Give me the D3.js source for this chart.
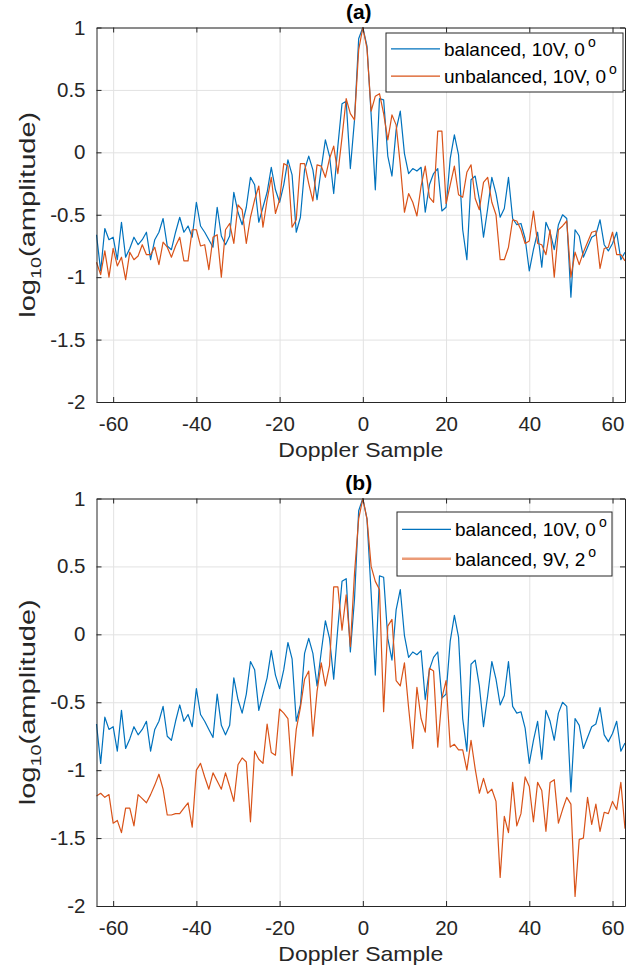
<!DOCTYPE html>
<html>
<head>
<meta charset="utf-8">
<script src="https://cdn.jsdelivr.net/npm/d3@7"></script>
<style>
  body { margin: 0; background: #fff; }
  svg { display: block; font-family: "Liberation Sans", Arial, sans-serif; }
</style>
</head>
<body>
<div id="chart"></div>
<script>
// doppler sample index, -64 .. 63
var doppler = d3.range(-64, 64);
var xTicks = [-60, -40, -20, 0, 20, 40, 60];
var yTicks = [1, 0.5, 0, -0.5, -1, -1.5, -2];

// log10(amplitude)
var balanced10 = [
  -0.66, -0.95, -0.61, -0.70, -0.68, -0.86, -0.56, -0.84, -0.77, -0.68,
  -0.74, -0.70, -0.64, -0.86, -0.70, -0.64, -0.53, -0.75, -0.78, -0.64,
  -0.52, -0.64, -0.59, -0.68, -0.40, -0.59, -0.64, -0.70, -0.76, -0.44,
  -0.67, -0.74, -0.67, -0.32, -0.48, -0.58, -0.44, -0.20, -0.26, -0.56,
  -0.44, -0.32, -0.12, -0.30, -0.40, -0.26, -0.06, -0.18, -0.64, -0.52,
  -0.14, -0.03, -0.14, -0.38, -0.13, 0.10, -0.03, -0.33, 0.05, 0.39,
  0.41, -0.13, 0.26, 0.91,
  1.00, 0.85, 0.30, -0.30, 0.43, 0.42, -0.03, -0.19, 0.18, 0.33,
  -0.01, -0.17, -0.13, -0.15, -0.12, -0.48, -0.26, -0.17, -0.13, -0.47,
  -0.44, -0.05, 0.14, -0.02, -0.62, -0.86, -0.22, -0.19, -0.38, -0.68,
  -0.45, -0.20, -0.33, -0.52, -0.45, -0.20, -0.53, -0.58, -0.57, -0.69,
  -0.95, -0.78, -0.64, -0.92, -0.56, -0.64, -0.78, -0.58, -0.50, -0.53,
  -1.16, -0.62, -0.67, -0.84, -0.76, -0.68, -0.66, -0.54, -0.74, -0.79,
  -0.73, -0.64, -0.86, -0.80
];
var unbalanced10 = [
  -0.88, -0.98, -0.79, -1.00, -0.77, -0.91, -0.84, -1.02, -0.80, -0.86,
  -0.83, -0.74, -0.82, -0.82, -0.76, -0.90, -0.72, -0.76, -0.84, -0.75,
  -0.68, -0.87, -0.87, -0.62, -0.62, -0.75, -0.74, -0.94, -0.68, -0.66,
  -1.00, -0.62, -0.57, -0.73, -0.42, -0.46, -0.73, -0.52, -0.38, -0.27,
  -0.60, -0.38, -0.20, -0.49, -0.38, -0.09, -0.11, -0.60, -0.54, -0.09,
  -0.09, -0.25, -0.39, -0.10, -0.11, -0.20, -0.05, 0.05, -0.17, 0.12,
  0.43, 0.31, 0.26, 0.82,
  1.00, 0.83, 0.33, 0.45, 0.47, 0.31, 0.10, 0.30, 0.22, -0.10,
  -0.48, -0.33, -0.40, -0.51, -0.27, -0.11, -0.36, -0.40, 0.17, 0.17,
  -0.41, -0.26, -0.11, -0.34, -0.36, -0.16, -0.10, -0.37, -0.46, -0.24,
  -0.20, -0.40, -0.50, -0.86, -0.86, -0.76, -0.54, -0.55, -0.62, -0.73,
  -0.71, -0.47, -0.73, -0.74, -0.82, -0.62, -1.00, -0.62, -0.59, -0.55,
  -1.00, -0.80, -0.90, -0.80, -0.72, -0.64, -0.63, -0.93, -0.77, -0.76,
  -0.64, -0.82, -0.82, -0.87
];
var balanced9 = [
  -1.19, -1.17, -1.20, -1.18, -1.39, -1.37, -1.46, -1.28, -1.28, -1.41,
  -1.18, -1.21, -1.24, -1.18, -1.11, -1.03, -1.14, -1.33, -1.33, -1.32,
  -1.32, -1.28, -1.24, -1.42, -1.00, -0.95, -1.05, -1.14, -1.02, -1.08,
  -1.14, -1.02, -1.12, -1.23, -0.96, -0.91, -0.94, -1.38, -0.86, -0.92,
  -0.95, -0.66, -0.87, -0.89, -0.55, -0.58, -0.62, -1.04, -0.70, -0.54,
  -0.33, -0.27, -0.75, -0.42, -0.21, -0.38, -0.23, 0.35, 0.35, 0.03,
  0.29, -0.09, 0.45, 0.85,
  1.00, 0.85, 0.50, 0.39, 0.33, -0.57, 0.06, 0.11, -0.34, -0.38,
  -0.21, -0.54, -0.84, -0.39, -0.62, -0.72, -0.25, -0.27, -0.83, -0.47,
  -0.34, -0.83, -0.81, -0.85, -0.85, -1.00, -0.78, -0.99, -1.17, -1.06,
  -1.17, -1.14, -1.23, -1.79, -1.34, -1.46, -1.09, -1.41, -1.32, -1.05,
  -1.12, -1.38, -1.09, -1.15, -1.45, -1.09, -1.07, -1.39, -1.29, -1.20,
  -1.25, -1.93, -1.51, -1.50, -1.20, -1.40, -1.25, -1.45, -1.31, -1.32,
  -1.23, -1.29, -1.09, -1.43
];

var blue = "#0072bd";
var orange = "#d95319";
var axisColor = "#262626";

var width = 644, height = 975;
var left = 96.5, right = 625;

var panels = [
  { title: "(a)", top: 27.5, bottom: 402,
    series: [balanced10, unbalanced10],
    names: [["balanced, 10V, 0", "o"], ["unbalanced, 10V, 0", "o"]],
    keyStroke: [[blue, 1.2], [orange, 1.2]],
    legend: { x: 386, y: 33, w: 237, h: 59 } },
  { title: "(b)", top: 498.5, bottom: 906,
    series: [balanced10, balanced9],
    names: [["balanced, 10V, 0", "o"], ["balanced, 9V, 2", "o"]],
    keyStroke: [[blue, 1.2], ["#eb9b77", 2.5]],
    legend: { x: 397, y: 512, w: 215, h: 64 } }
];
var colors = [blue, orange];

var svg = d3.select("#chart").append("svg")
  .attr("width", width).attr("height", height);

var x = d3.scaleLinear().domain([-64, 63]).range([left, right]);

panels.forEach(function(p) {
  var y = d3.scaleLinear().domain([-2, 1]).range([p.bottom, p.top]);
  var h = p.bottom - p.top;
  var g = svg.append("g");

  // grid
  g.append("g")
    .attr("transform", "translate(0," + p.bottom + ")")
    .call(d3.axisBottom(x).tickValues(xTicks).tickSize(-h).tickFormat(""))
    .call(function(s) {
      s.select(".domain").remove();
      s.selectAll("line").attr("stroke", "#e2e2e2");
    });
  g.append("g")
    .attr("transform", "translate(" + left + ",0)")
    .call(d3.axisLeft(y).tickValues(yTicks).tickSize(-(right - left)).tickFormat(""))
    .call(function(s) {
      s.select(".domain").remove();
      s.selectAll("line").attr("stroke", "#e2e2e2");
    });

  // lines
  var line = d3.line()
    .x(function(d, i) { return x(doppler[i]); })
    .y(function(d) { return y(d); });

  p.series.forEach(function(data, i) {
    g.append("path")
      .datum(data)
      .attr("d", line)
      .attr("fill", "none")
      .attr("stroke", colors[i])
      .attr("stroke-width", 1.2)
      .attr("stroke-linejoin", "round");
  });

  // axes, ticks inward on all sides
  var fmt = function(d) { return String(d); };
  var bottomAxis = g.append("g")
    .attr("transform", "translate(0," + p.bottom + ")")
    .call(d3.axisBottom(x).tickValues(xTicks).tickSizeInner(-5).tickSizeOuter(0).tickPadding(14).tickFormat(fmt));
  var topAxis = g.append("g")
    .attr("transform", "translate(0," + p.top + ")")
    .call(d3.axisTop(x).tickValues(xTicks).tickSizeInner(-5).tickSizeOuter(0).tickFormat(""));
  var leftAxis = g.append("g")
    .attr("transform", "translate(" + left + ",0)")
    .call(d3.axisLeft(y).tickValues(yTicks).tickSizeInner(-5).tickSizeOuter(0).tickPadding(11).tickFormat(fmt));
  var rightAxis = g.append("g")
    .attr("transform", "translate(" + right + ",0)")
    .call(d3.axisRight(y).tickValues(yTicks).tickSizeInner(-5).tickSizeOuter(0).tickFormat(""));

  [bottomAxis, topAxis, leftAxis, rightAxis].forEach(function(a) {
    a.select(".domain").attr("stroke", axisColor);
    a.selectAll("line").attr("stroke", axisColor);
    a.selectAll("text")
      .attr("fill", axisColor)
      .style("font-family", "'Liberation Sans', Arial, sans-serif")
      .style("font-size", "20.5px");
  });

  // title
  g.append("text")
    .attr("x", (left + right) / 2 - 2)
    .attr("y", p.top - 9)
    .attr("text-anchor", "middle")
    .style("font-size", "21px")
    .style("font-weight", "bold")
    .attr("fill", "#000")
    .text(p.title);

  // x label (the figure's text is a bit stretched sideways)
  g.append("text")
    .attr("transform", "translate(" + ((left + right) / 2) + "," + (p.bottom + 55) + ") scale(1.15,1)")
    .attr("text-anchor", "middle")
    .style("font-size", "20px")
    .attr("fill", axisColor)
    .text("Doppler Sample");

  // y label
  var yl = g.append("text")
    .attr("transform", "translate(35," + ((p.top + p.bottom) / 2) + ") rotate(-90) scale(1.32,1)")
    .attr("text-anchor", "middle")
    .style("font-size", "22px")
    .attr("fill", axisColor);
  yl.append("tspan").text("log");
  yl.append("tspan").attr("dy", 6).style("font-size", "15px").text("10");
  yl.append("tspan").attr("dy", -6).text("(amplitude)");

  // legend
  var L = p.legend;
  var lg = g.append("g").attr("transform", "translate(" + L.x + "," + L.y + ")");
  lg.append("rect")
    .attr("width", L.w).attr("height", L.h)
    .attr("fill", "#fff")
    .attr("stroke", axisColor)
    .attr("stroke-width", 1);
  p.names.forEach(function(n, i) {
    var ly = L.h * (i === 0 ? 0.27 : 0.73);
    lg.append("line")
      .attr("x1", 5).attr("x2", 54)
      .attr("y1", ly).attr("y2", ly)
      .attr("stroke", p.keyStroke[i][0])
      .attr("stroke-width", p.keyStroke[i][1]);
    var t = lg.append("text")
      .attr("x", 58).attr("y", ly + 7)
      .style("font-size", "19px")
      .attr("fill", "#000");
    t.append("tspan").text(n[0]);
    t.append("tspan").attr("dx", 3).attr("dy", -9).style("font-size", "14px").text(n[1]);
  });
});
</script>
</body>
</html>
